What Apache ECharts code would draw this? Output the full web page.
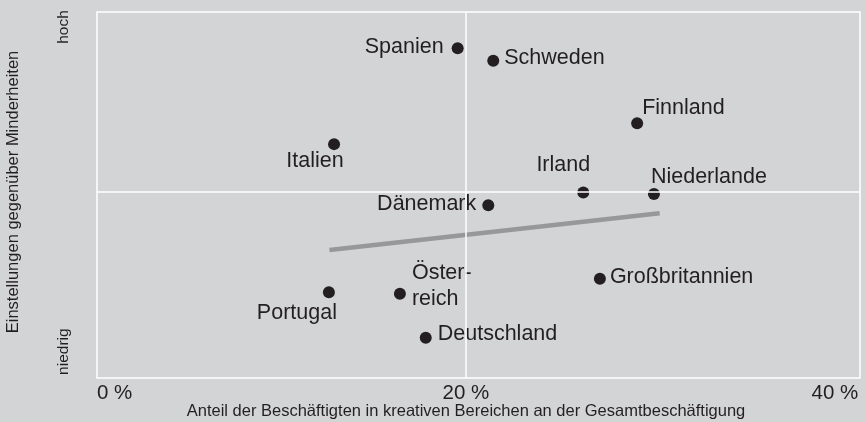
<!DOCTYPE html>
<html><head><meta charset="utf-8">
<script src="https://cdn.jsdelivr.net/npm/echarts@6/dist/echarts.min.js"></script>
<style>html,body{margin:0;padding:0;background:#d3d4d6}#c{width:865px;height:422px}</style>
</head><body><div id="c"></div>
<script>
const countries = ['Spanien','Schweden','Finnland','Italien','Irland','Niederlande','Dänemark','Portugal','Österreich','Deutschland','Großbritannien'];
const displayNames = ['Spanien','Schweden','Finnland','Italien','Irland','Niederlande','Dänemark','Portugal','Öster-\nreich','Deutschland','Großbritannien'];
const creativeShare = [19.55, 21.48, 29.28, 12.85, 26.36, 30.19, 21.21, 12.57, 16.42, 17.82, 27.26];
const attitude = [90.1, 86.7, 69.6, 63.9, 50.7, 50.3, 47.2, 23.4, 23.0, 11.0, 27.1];
const trendX = [12.6, 30.5];
const trendY = [35.0, 45.0];
const xTickValues = [0, 20, 40];
const xTickLabels = ['0 %', '20 %', '40 %'];
const yTickValues = [7.2, 95.9];
const yTickLabels = ['niedrig', 'hoch'];
const xRefLine = 20;
const yRefLine = 50.9;
const xMax = 41.36;

const FONT = 'Liberation Sans, Arial, sans-serif';
const TXT = '#231f20';
const labelLayout = {
  'Spanien': {position: 'left', offset: [-3, -1]},
  'Schweden': {position: 'right', offset: [0, -3]},
  'Finnland': {position: 'right', offset: [-6, -15]},
  'Italien': {position: 'bottom', offset: [-19, -7]},
  'Irland': {position: 'top', offset: [-20, -3]},
  'Niederlande': {position: 'right', offset: [-14, -17]},
  'Dänemark': {position: 'left', offset: [-1, -1]},
  'Portugal': {position: 'bottom', offset: [-32, -3]},
  'Österreich': {position: 'right', offset: [1, -8]},
  'Deutschland': {position: 'right', offset: [1, -4]},
  'Großbritannien': {position: 'right', offset: [-1, -2]}
};

const scatterData = countries.map((c, i) => ({
  name: c,
  value: [creativeShare[i], attitude[i]],
  label: Object.assign({show: true, formatter: displayNames[i]}, labelLayout[c])
}));

const chart = echarts.init(document.getElementById('c'), null, {renderer: 'canvas'});
chart.setOption({
  backgroundColor: '#d3d4d6',
  animation: false,
  textStyle: {fontFamily: FONT},
  grid: {left: 97, right: 5, top: 12, bottom: 44, show: true, borderColor: '#ffffff', borderWidth: 1.5, backgroundColor: 'transparent', containLabel: false, outerBoundsMode: 'none'},
  xAxis: {
    type: 'value', min: 0, max: xMax,
    axisLine: {show: false}, axisTick: {show: false}, splitLine: {show: false},
    axisLabel: {
      customValues: xTickValues,
      formatter: v => xTickLabels[xTickValues.indexOf(v)],
      alignMinLabel: 'left',
      fontSize: 20.5, color: TXT, margin: 5, fontFamily: FONT
    },
    name: 'Anteil der Beschäftigten in kreativen Bereichen an der Gesamtbeschäftigung',
    nameLocation: 'middle', nameGap: 25, nameMoveOverlap: false,
    nameTextStyle: {fontSize: 16.5, color: TXT, fontFamily: FONT, padding: [0, 25, 0, 0]}
  },
  yAxis: {
    type: 'value', min: 0, max: 100,
    axisLine: {show: false}, axisTick: {show: false}, splitLine: {show: false},
    axisLabel: {
      customValues: yTickValues,
      formatter: v => yTickLabels[yTickValues.indexOf(v)],
      rotate: 90, fontSize: 15.5, color: TXT, margin: 25, fontFamily: FONT
    },
    name: 'Einstellungen gegenüber Minderheiten',
    nameLocation: 'middle', nameRotate: 90, nameGap: 75, nameMoveOverlap: false,
    nameTextStyle: {fontSize: 16.5, color: TXT, fontFamily: FONT, padding: [0, 0, 0, 6]}
  },
  series: [
    {
      type: 'line', data: trendX.map((x, i) => [x, trendY[i]]),
      showSymbol: false, symbol: 'none', silent: true,
      lineStyle: {color: '#97989a', width: 4.5}, z: 2,
      markLine: {
        silent: true, symbol: 'none', label: {show: false},
        lineStyle: {color: '#ffffff', width: 1.5, type: 'solid'},
        data: [{xAxis: xRefLine}, {yAxis: yRefLine}]
      }
    },
    {
      type: 'scatter', data: scatterData, symbolSize: 12,
      itemStyle: {color: TXT, opacity: 1}, z: 3,
      label: {fontSize: 21.5, color: TXT, fontFamily: FONT, lineHeight: 26, distance: 5, opacity: 1}
    }
  ]
});
</script></body></html>
